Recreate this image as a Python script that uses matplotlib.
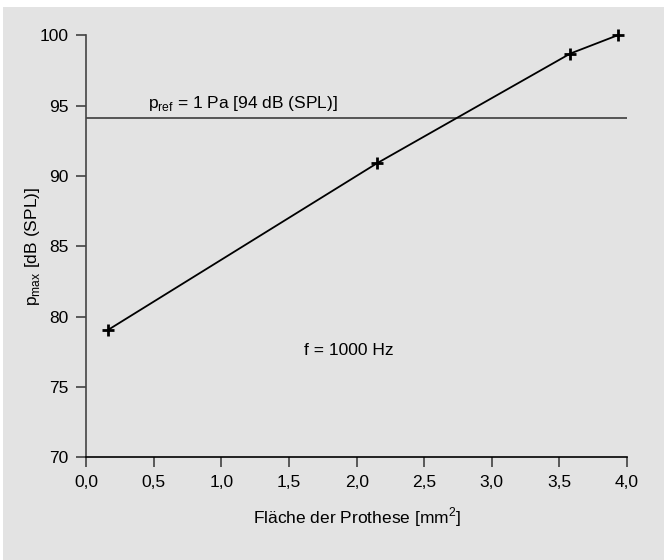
import matplotlib
matplotlib.use("Agg")
import matplotlib.pyplot as plt
from matplotlib.patches import Rectangle

area = [0.16, 2.15, 3.58, 3.93]
pmax = [79.05, 90.9, 98.7, 100.0]
p_ref = 94.1
xticks = [0.0, 0.5, 1.0, 1.5, 2.0, 2.5, 3.0, 3.5, 4.0]
xticklabels = ["0,0", "0,5", "1,0", "1,5", "2,0", "2,5", "3,0", "3,5", "4,0"]
yticks = [70, 75, 80, 85, 90, 95, 100]

plt.rcParams['font.family'] = ['Liberation Sans', 'DejaVu Sans']

fig = plt.figure(figsize=(6.64, 5.60), dpi=100)
fig.patch.set_facecolor('white')
bg = '#e3e3e3'
fig.patches.append(Rectangle((3/664, 0), 1, 1 - 7/560, transform=fig.transFigure,
                             facecolor=bg, edgecolor='none', zorder=-10))

ax = fig.add_axes([86.3/664, 1 - 457.3/560, (627 - 86.3)/664, (457.3 - 35.3)/560])
ax.set_facecolor(bg)
ax.patch.set_alpha(0)

ax.plot(area, pmax, color='black', lw=1.3, marker='+', ms=9, mew=2, clip_on=False, zorder=3)
ax.axhline(p_ref, color='#555555', lw=1.4, zorder=2)

ax.set_xlim(0, 4)
ax.set_ylim(70, 100)
ax.set_xticks(xticks)
ax.set_xticklabels(xticklabels)
ax.set_yticks(yticks)
for s in ['top', 'right']:
    ax.spines[s].set_visible(False)
ax.spines['left'].set_color('#444444')
ax.spines['bottom'].set_color('black')
ax.spines['left'].set_linewidth(1.2)
ax.spines['bottom'].set_linewidth(1.2)
ax.tick_params(axis='both', direction='out', length=7, width=1.1, labelsize=12.5, colors='#333333', labelcolor='black', pad=6)

ax.text(0.46, 94.5, r'p$_{\mathregular{ref}}$ = 1 Pa [94 dB (SPL)]', fontsize=12.5, ha='left', va='bottom')
ax.text(1.61, 77.6, 'f = 1000 Hz', fontsize=12.5, ha='left', va='center')

ax.set_xlabel(r'Fläche der Prothese [mm$^{\mathregular{2}}$]', fontsize=12.5, labelpad=11)
ax.set_ylabel(r'p$_{\mathregular{max}}$ [dB (SPL)]', fontsize=12.5, labelpad=-2)

fig.savefig('out.png', dpi=100, facecolor=fig.get_facecolor())
